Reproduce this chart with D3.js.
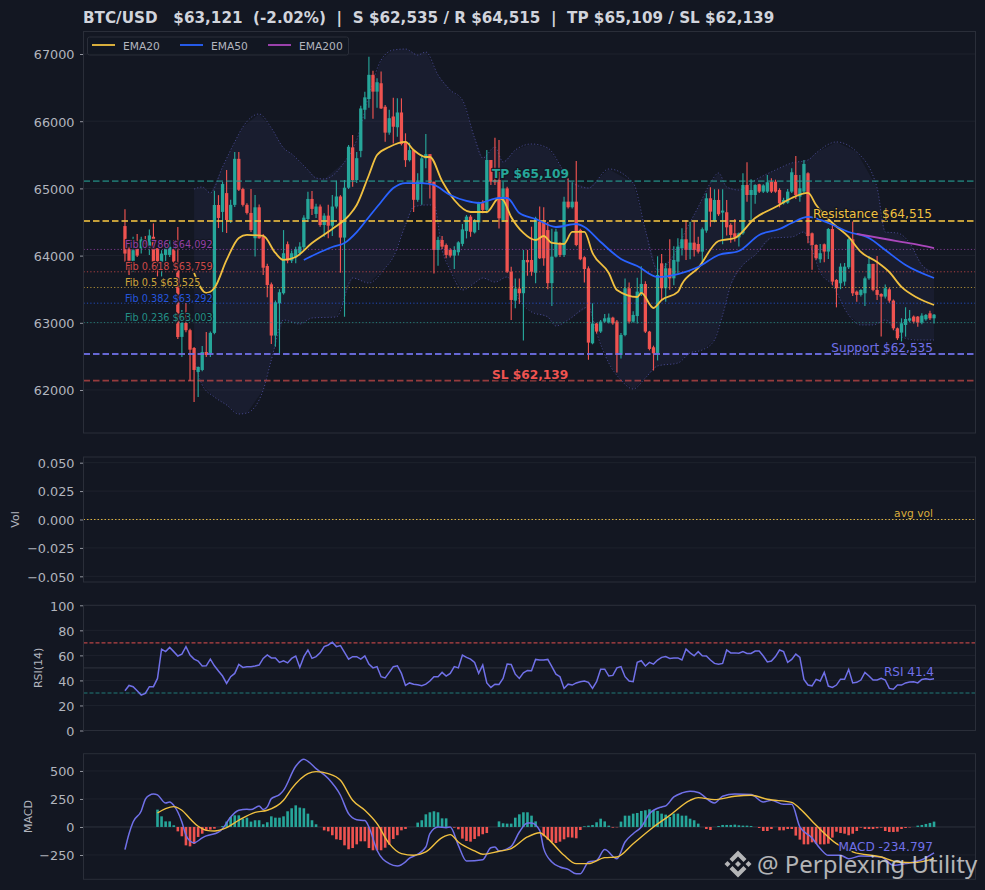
<!DOCTYPE html>
<html>
<head>
<meta charset="utf-8">
<script src="https://cdn.jsdelivr.net/npm/d3@7"></script>
<style>
  html, body { margin: 0; padding: 0; background: #131722; }
  svg { display: block; }
  text { font-family: "DejaVu Sans", sans-serif; white-space: pre; }
</style>
</head>
<body>
<svg id="canvas" width="985" height="890"></svg>
<script>
// candles, ten per row
let opens = [
  64440,64110,63920,64100,64110,64240,64110,64280,64110,63910,
  64010,64010,64090,63786,62790,62997,62890,62625,62268,62298,
  62566,62550,62850,64753,64650,64930,64530,64755,65440,64990,
  64755,64635,64258,64719,64280,63845,63573,62810,63290,63440,
  64170,63925,63975,64035,64125,64545,64843,64620,64730,64455,
  64595,64445,64730,64880,64268,65010,65610,65125,65558,66170,
  66330,66690,66440,66565,66215,65830,66070,65910,66130,65695,
  65420,65570,64830,65075,65447,65510,65100,64083,64232,64157,
  64083,64000,64050,64175,64365,64580,64345,64495,64780,64680,
  65423,65125,65125,64530,65000,63760,63330,63510,63440,63935,
  63935,63745,64505,64500,64380,63590,63985,64183,64010,64803,
  64720,64803,64382,63975,63810,62695,62990,62870,63018,63005,
  63077,63018,62522,62819,63514,63018,63100,63440,63578,62869,
  62636,62546,63885,63514,63811,63662,63910,64109,64243,64084,
  64193,64173,64059,64372,64853,64515,64828,64640,64645,64456,
  64332,64272,64332,65051,64902,64902,65061,64952,64952,65100,
  65100,64977,64778,64788,64952,65200,64878,64952,65225,64332,
  64158,63945,64168,64060,64396,63638,63588,63613,63826,64243,
  63464,63415,63439,63662,63876,63489,63429,63390,63498,63330,
  62918,62854,62968,63032,63092,63092,63003,63052,63141,63067]
let closes = [
  64030,63910,64080,64000,64240,64170,64300,63910,63910,64030,
  64110,64130,63910,62789,62997,62890,62600,62298,62343,62566,
  62520,62850,64753,64560,65065,64530,64755,65440,64980,64755,
  64635,64380,64719,64258,63820,63563,62810,63305,63455,64035,
  63925,64035,64095,64135,64565,64843,64695,64730,64455,64595,
  64445,64730,64880,64268,65010,65620,65125,65450,66190,66355,
  66690,66440,66580,66190,65830,66045,65918,66130,65660,65420,
  65570,64830,65100,65447,65510,65075,64083,64232,64133,64010,
  64000,64083,64197,64390,64580,64355,64520,64780,64680,65423,
  65100,65090,64555,65000,63760,63340,63510,63440,63935,63900,
  63760,64555,63960,63960,63590,63985,64357,64010,64803,64720,
  64803,64158,63945,63800,62705,62990,62870,63018,63067,63077,
  62992,62522,62819,63514,63018,63117,63464,63578,62869,62611,
  62546,63712,63514,63811,63662,63935,64134,64243,64084,64193,
  64084,64059,64392,64853,64654,64828,64615,64670,64421,64307,
  64272,64332,65051,64902,64977,65051,64952,65045,65091,64952,
  64952,64778,64828,64952,65240,64902,65002,65364,64292,64158,
  63960,64035,64060,64396,63613,63514,63836,63836,64243,63439,
  63415,63489,63662,63876,63490,63415,63390,63514,63330,62918,
  62770,62993,63057,63067,63018,63003,63107,63117,63067,63121]
let highs = [
  64690,64130,64280,64320,64280,64290,64390,64480,64110,64080,
  64160,64230,64230,64426,63190,63295,62910,62640,62350,62655,
  62863,62870,64966,64900,65095,65275,64830,65540,65540,65010,
  64780,64990,64902,64760,64320,63880,63600,63330,63500,64380,
  64210,64075,64130,64200,64600,64950,64960,64770,64760,64630,
  64755,64900,65115,64900,65125,65645,65795,65540,66230,66440,
  66960,66750,66640,66740,66240,66170,66350,66340,66340,65820,
  65680,65570,65225,65500,65810,65510,65100,64280,64290,64180,
  64110,64140,64215,64470,64605,64605,64545,64800,64825,65570,
  65423,65755,65720,65100,65025,63835,63660,63660,64085,64085,
  64430,64580,64730,64720,64500,64400,64400,64200,64877,65150,
  65090,65408,64400,63990,63840,63290,63000,63040,63130,63140,
  63090,63040,62850,63660,63600,63170,63670,63840,63620,62880,
  62660,63990,64025,63890,64243,64140,64258,64406,64530,64505,
  64505,64280,64420,64927,65016,64987,64987,64987,64828,64480,
  64545,64342,65225,65388,65135,65061,65071,65060,65200,65150,
  65130,65002,64860,64990,65300,65483,65200,65423,65240,64345,
  64170,64173,64180,64410,64470,63650,63885,63890,64260,64506,
  63480,63500,63690,63995,63880,63995,63440,63570,63520,63345,
  62930,63067,63231,63190,63110,63100,63142,63130,63180,63130]
let lows = [
  63910,63710,63760,63980,64030,64100,64010,63760,63690,63690,
  63910,63980,63880,62760,62490,62860,62134,61822,61896,62280,
  62490,62490,62830,64410,64350,64335,64485,64725,64960,64730,
  64610,64350,63985,64250,63710,63380,62685,62645,62540,63420,
  63885,63890,63885,64000,64080,64500,64605,64560,64430,64280,
  64260,64290,64700,63745,63090,64990,65025,65080,65465,66030,
  66200,66035,66200,66180,65695,65800,65670,65770,65640,65320,
  65400,64650,64800,64755,65300,64850,63735,63850,64100,63960,
  63970,63800,64000,64140,64255,64280,64330,64380,64630,64630,
  65050,65050,64405,64500,63740,63040,63215,63280,62735,63700,
  63700,63590,63950,63850,63500,63250,63970,63980,63980,64700,
  64700,64140,63930,63600,62450,62680,62840,62850,63000,62990,
  62970,62260,62470,62800,62990,63000,62990,63400,62850,62590,
  62290,62440,63340,63315,63490,63560,63737,64000,63935,63945,
  63985,64030,63860,64340,64430,64495,64590,64168,64300,64193,
  64208,64134,64310,64803,64520,64770,64930,64930,64930,64930,
  64935,64719,64760,64770,64930,64843,64800,64930,64183,63790,
  63940,63895,63900,63950,63560,63230,63500,63550,63800,63400,
  63315,63390,63250,63640,63470,63340,62795,63360,63300,62890,
  62745,62720,62794,63010,62990,62940,62980,63030,63040,62990]

let ema20Idx = [17,20,22,25,28,30,34,37,39,42,46,51,55,57,60,62,65,69,71,74,75,78,81,85,89,92,93,95,98,101,103,105,108,110,113,115,119,121,126,127,130,132,136,137,141,146,150,155,160,164,168,170,174,178,181,185,188,191,195,199]
let ema20 = [63741,63444,63518,63935,64262,64307,64292,64039,63935,63980,64188,64396,64590,64753,65200,65497,65616,65691,65571,65467,65467,65110,64828,64649,64649,64857,64828,64575,64337,64232,64292,64188,64173,64352,64352,64039,63741,63488,63384,63444,63220,63340,63459,63578,63816,64217,64262,64560,64723,64857,64932,64753,64485,64277,64054,63905,63756,63533,63369,63265]
let ema50Idx = [44,47,51,54,57,60,63,66,69,73,76,80,84,87,92,94,97,101,106,111,113,117,122,126,131,136,141,146,151,156,161,164,168,173,178,183,187,192,199]
let ema50 = [63935,64024,64128,64188,64351,64575,64798,65006,65080,65080,65051,64902,64813,64783,64857,64857,64634,64545,64426,64470,64426,64203,63950,63846,63682,63726,63831,64009,64069,64307,64396,64485,64575,64485,64351,64262,64083,63860,63667]
let ema200Idx = [180,187,194,199]
let ema200 = [64322,64247,64173,64113]

// bollinger envelope
let bbUpperIdx = [17,19,21,24,27,29,33,36,39,41,45,47,49,54,57,60,63,66,69,72,74,77,80,83,86,88,91,93,96,100,104,107,109,114,119,125,128,131,135,138,141,144,146,148,151,155,160,164,168,170,175,180,185,187,190,193,196,199]
let bbUpper = [64991,65021,64932,65319,65691,65914,66107,65899,65601,65512,65274,65155,65140,65393,65720,66390,66911,67060,67074,66985,67030,66688,66464,66315,65750,65452,65616,65393,65571,65661,65601,65348,65125,65006,65289,65080,64381,63786,64009,64381,64723,65080,65229,65021,64976,65125,65274,65378,65423,65527,65691,65542,65006,64351,64336,64188,63860,63741]
let bbLowerIdx = [17,19,22,25,28,30,34,36,39,43,46,52,56,60,64,66,69,71,74,76,78,80,83,86,88,91,94,97,100,104,106,109,114,116,119,122,125,128,131,136,139,142,145,147,149,152,155,159,164,167,169,171,174,178,181,184,187,191,195,199]
let bbLower = [62447,62075,61896,61777,61643,61658,62000,62447,63042,62982,63072,63087,63667,63593,63816,63979,64456,64723,64753,64753,64084,63786,63488,63593,63667,63607,63682,63340,63161,63087,62953,63042,63235,62848,62402,62149,62015,62179,62358,62402,62551,62596,62744,63116,63563,63860,64009,64262,64277,64351,64084,63756,63563,63116,62968,62968,63042,62789,62744,62744]

// RSI(14), one per candle
let rsi = [
  31.7,36,35,31.7,28.3,29.6,35,35,41.6,65,
  63,66.4,63,59.5,61,67,60.3,57,55.5,51.5,
  51.7,57,51.7,47.5,43.5,37.6,43,45.6,52.8,50.4,
  51,51,51.5,52.3,57.6,60.3,58,58,54.4,55.7,
  54,57.6,59.5,50.4,59,64.3,57.6,59,62,67,
  68.3,70.5,67,67.8,62.4,57,59,59,57,59.5,
  53,50,51,43,42,46.4,51,51.7,45.6,36,
  38,37,36.5,35.7,37,39.5,43,43,46.4,43.5,
  45.6,51,50,60.3,58.4,57,54.4,45.6,52.3,38,
  34.4,37,36.8,41.6,53,52.8,45,41.6,46,48,
  47.7,56.8,56.3,56.3,56.8,51,45,43,33.6,37,
  36.3,38,39,39.5,38.5,33.6,39,49,49,43.5,
  44,50,51,43,39.5,39,54.4,55.7,51.5,54.4,
  53,56.3,58.4,59,57.6,58,58,56.3,65,62,
  59.7,63,59.7,59.5,56.3,53.6,53,53.6,64.3,62,
  62,61.7,63,61.6,61.6,63.5,63.5,59.5,54.7,55.5,
  59,64.3,63,54.4,56.8,61,58.4,40.8,36.3,35.7,
  40.8,39.5,46.4,35.5,34.4,36.3,41,41,48.8,38,
  38.5,40.3,46.4,43.5,40.3,40.3,41.6,40.3,33.6,33,
  36.3,36.3,38,38.7,39,38,40.8,41.3,40.8,41.4]

// MACD panel
let macdIdx = [0,1,2,4,5,6,7,8,10,11,12,14,15,16,17,19,20,23,24,26,28,30,31,33,34,35,36,38,39,42,44,45,47,50,53,55,57,59,60,62,65,67,69,70,71,74,75,77,79,80,82,84,88,90,91,92,95,97,99,100,102,103,105,107,109,111,112,114,116,118,121,123,125,127,129,132,133,135,137,139,141,145,147,150,154,157,159,162,164,166,169,171,173,176,178,181,186,189,192,196,199]
let macd = [-202,-60,45,143,247,283,295,286,214,223,193,45,-74,-125,-140,-98,-80,-45,-15,89,149,158,155,188,155,179,253,289,327,542,604,586,521,432,283,119,65,57,0,-208,-327,-348,-312,-277,-262,-179,-60,0,-6,0,-164,-304,-292,-185,-179,-214,-173,-45,36,36,-30,-193,-312,-357,-378,-417,-417,-312,-298,-202,-283,-134,-60,0,119,179,188,268,304,318,307,214,274,295,289,223,238,202,202,0,-98,-193,-253,-253,-283,-259,-268,-342,-327,-292,-232]
let signalIdx = [8,10,12,14,16,18,20,22,25,28,32,35,39,41,45,47,50,53,56,59,62,65,68,71,74,78,80,82,86,88,92,95,99,102,104,108,111,114,118,121,125,130,134,139,141,145,150,154,158,164,166,170,175,179,186,190,194,199]
let signal = [125,164,182,149,74,6,-30,-36,-6,60,131,149,238,342,476,494,476,417,238,149,30,-149,-238,-253,-223,-95,-68,-134,-214,-244,-217,-193,-89,-51,-104,-253,-327,-327,-274,-268,-149,0,104,238,262,244,274,283,247,220,164,15,-149,-223,-268,-312,-318,-283]
// histogram starts at candle 8
let histStart = 8
let hist = [
  155,95,50,50,15,-39,-83,-164,-173,-152,
  -89,-60,-30,-24,-15,0,9,48,89,104,
  104,74,83,48,60,60,24,42,95,83,
  83,95,140,167,193,173,167,119,60,24,
  0,-30,-39,-74,-110,-116,-164,-199,-188,-155,
  -128,-128,-188,-208,-208,-208,-185,-158,-107,-74,
  -30,-18,0,0,39,60,113,131,140,131,
  77,77,0,-6,-21,-104,-125,-131,-107,-83,
  -65,-54,0,0,50,33,30,30,83,113,
  131,131,101,50,0,-83,-113,-134,-143,-131,
  -110,-92,-95,-101,-27,6,12,18,42,74,
  50,12,-6,-3,48,101,101,119,125,143,
  149,158,149,143,119,110,89,119,119,101,
  101,74,60,30,0,-18,-27,0,9,18,
  18,18,21,15,12,12,9,0,-9,-36,
  -36,-18,0,-30,-30,-18,-18,-77,-113,-155,
  -155,-137,-149,-155,-155,-149,-95,-42,-54,-60,
  -74,-60,-36,-6,-18,-18,-18,-12,-6,-36,
  -45,-45,-42,-18,-9,-4,0,12,18,27,
  36,48]

// key levels
let fibLabels = ['Fib 0.786 $64,092','Fib 0.618 $63,759','Fib 0.5 $63,525','Fib 0.382 $63,292','Fib 0.236 $63,003']
let fibValues = [64092,63759,63525,63292,63003]
let fibColors = ['#ab47bc','#ef5350','#f0c040','#2962ff','#26a69a']
let tpLevel = 65109, slLevel = 62139, resLevel = 64515, supLevel = 62535

let priceTicks = [62000,63000,64000,65000,66000,67000]
let volTicks = [-0.05,-0.025,0,0.025,0.05]
let rsiTicks = [0,20,40,60,80,100]
let macdTicks = [-250,0,250,500]

let bg = '#131722', gridCol = '#1e222d', spineCol = '#2a2e39', tickCol = '#b2b5be'
let up = '#26a69a', down = '#ef5350', yellow = '#f0c040', blue = '#2962ff', purple = '#ab47bc', violet = '#7070e8'

let canvas = d3.select('#canvas')
canvas.append('rect').attr('width', 985).attr('height', 890).attr('fill', bg)

let left = 83.5, right = 975.5
let x = d3.scaleLinear().domain([-10.2, 209.2]).range([left, right])

// one panel: grid, frame, left axis
let makePanel = (top, bottom, domain, ticks, fmt, label, labelX) => {
  let y = d3.scaleLinear().domain(domain).range([bottom, top])
  let g = canvas.append('g')
  g.selectAll('line.grid').data(ticks).enter().append('line')
    .attr('x1', left).attr('x2', right)
    .attr('y1', d => y(d)).attr('y2', d => y(d))
    .attr('stroke', gridCol).attr('stroke-width', 1)
  let axis = d3.axisLeft(y).tickValues(ticks).tickFormat(fmt).tickSize(3.5).tickPadding(5.5)
  let ag = g.append('g').attr('transform', 'translate(' + left + ',0)').call(axis)
  ag.select('.domain').remove()
  ag.selectAll('line').attr('stroke', tickCol).attr('stroke-width', 0.8)
  ag.selectAll('text').attr('fill', tickCol).attr('dy', '0.38em').style('font-size', '12.8px')
  if (label) {
    g.append('text').text(label)
      .attr('transform', 'translate(' + labelX + ',' + ((top + bottom) / 2) + ') rotate(-90)')
      .attr('text-anchor', 'middle').attr('fill', tickCol).style('font-size', '11px')
  }
  let overlay = canvas.append('g')
  let frame = () => overlay.append('rect').attr('x', left).attr('y', top)
    .attr('width', right - left).attr('height', bottom - top)
    .attr('fill', 'none').attr('stroke', spineCol).attr('stroke-width', 1)
  return { y, overlay, frame }
}

let minusFmt = d => String(d).replace('-', '\u2212')

// ---- price panel
let pricePanel = makePanel(31.5, 433, [61360, 67335], priceTicks, d => d, null, 0)
let yp = pricePanel.y
let pg = pricePanel.overlay

let upperLine = d3.line().x((d, i) => x(bbUpperIdx[i])).y(d => yp(d)).curve(d3.curveMonotoneX)
let lowerLine = d3.line().x((d, i) => x(bbLowerIdx[i])).y(d => yp(d)).curve(d3.curveMonotoneX)
let bandPts = bbUpper.map((d, i) => [x(bbUpperIdx[i]), yp(d)])
  .concat(bbLower.map((d, i) => [x(bbLowerIdx[i]), yp(d)]).reverse())
pg.append('path').attr('d', d3.line()(bandPts) + 'Z').attr('fill', violet).attr('fill-opacity', 0.07)
;[[bbUpper, upperLine], [bbLower, lowerLine]].forEach(([vals, ln]) => {
  pg.append('path').attr('d', ln(vals)).attr('fill', 'none')
    .attr('stroke', violet).attr('stroke-opacity', 0.5).attr('stroke-width', 1)
    .attr('stroke-dasharray', '1.2 2')
})

let candleIdx = d3.range(opens.length)
pg.selectAll('line.wick').data(candleIdx).enter().append('line')
  .attr('x1', i => x(i)).attr('x2', i => x(i))
  .attr('y1', i => yp(highs[i])).attr('y2', i => yp(lows[i]))
  .attr('stroke', i => closes[i] >= opens[i] ? up : down).attr('stroke-width', 1.15)
pg.selectAll('rect.body').data(candleIdx).enter().append('rect')
  .attr('x', i => x(i) - 1.65).attr('width', 3.3)
  .attr('y', i => yp(Math.max(opens[i], closes[i])))
  .attr('height', i => Math.max(1, Math.abs(yp(opens[i]) - yp(closes[i]))))
  .attr('fill', i => closes[i] >= opens[i] ? up : down)

// levels
let hLine = (v, col, w, dash, op) => pg.append('line')
  .attr('x1', left).attr('x2', right).attr('y1', yp(v)).attr('y2', yp(v))
  .attr('stroke', col).attr('stroke-width', w).attr('stroke-dasharray', dash).attr('stroke-opacity', op)
fibValues.forEach((v, i) => hLine(v, fibColors[i], 1, '1.2 2.2', 0.7))
hLine(tpLevel, up, 1.8, '6.5 3', 0.6)
hLine(slLevel, down, 1.8, '6.5 3', 0.6)
hLine(resLevel, yellow, 2, '6.5 3', 0.8)
hLine(supLevel, violet, 2, '6.5 3', 0.9)

let drawLine = (g, scale, idx, vals, col, w, curve) => g.append('path')
  .attr('d', d3.line().x((d, i) => x(idx[i])).y(d => scale(d)).curve(curve || d3.curveMonotoneX)(vals))
  .attr('fill', 'none').attr('stroke', col).attr('stroke-width', w)

drawLine(pg, yp, ema20Idx, ema20, yellow, 1.8)
drawLine(pg, yp, ema50Idx, ema50, blue, 1.8)
drawLine(pg, yp, ema200Idx, ema200, purple, 1.8)

let halo = (sel) => sel.attr('stroke', bg).attr('stroke-width', 2.5).attr('stroke-opacity', 0.9)
  .attr('paint-order', 'stroke').attr('stroke-linejoin', 'round')

let fibTextY = [247.5, 270, 286, 301.5, 321]
fibLabels.forEach((t, i) => {
  pg.append('text').text(t).attr('x', 125).attr('y', fibTextY[i])
    .attr('fill', fibColors[i]).attr('fill-opacity', 0.85).style('font-size', '9.7px').call(halo)
})
pg.append('text').text('TP $65,109').attr('x', 492).attr('y', 178).attr('fill', up)
  .style('font-size', '12.2px').style('font-weight', 'bold').call(halo)
pg.append('text').text('SL $62,139').attr('x', 492).attr('y', 378.5).attr('fill', down)
  .style('font-size', '12.2px').style('font-weight', 'bold').call(halo)
pg.append('text').text('Resistance $64,515').attr('x', 932).attr('y', 218).attr('text-anchor', 'end')
  .attr('fill', yellow).style('font-size', '12.1px').call(halo)
pg.append('text').text('Support $62,535').attr('x', 933).attr('y', 351.5).attr('text-anchor', 'end')
  .attr('fill', violet).style('font-size', '12.1px').call(halo)

// legend
let legendNames = ['EMA20', 'EMA50', 'EMA200']
let legendCols = [yellow, blue, purple]
let legendX = [92, 180, 268]
pg.append('rect').attr('x', 87.5).attr('y', 37).attr('width', 261).attr('height', 18).attr('rx', 2)
  .attr('fill', bg).attr('fill-opacity', 0.85).attr('stroke', spineCol)
legendNames.forEach((n, i) => {
  pg.append('line').attr('x1', legendX[i]).attr('x2', legendX[i] + 23).attr('y1', 45).attr('y2', 45)
    .attr('stroke', legendCols[i]).attr('stroke-width', 1.8)
  pg.append('text').text(n).attr('x', legendX[i] + 31).attr('y', 50)
    .attr('fill', tickCol).style('font-size', '10.7px')
})
pricePanel.frame()

canvas.append('text').text('BTC/USD   $63,121  (-2.02%)  |  S $62,535 / R $64,515  |  TP $65,109 / SL $62,139')
  .attr('x', 83).attr('y', 23).attr('fill', '#d1d4dc')
  .style('font-size', '15.2px').style('font-weight', 'bold')

// ---- volume panel (empty series)
let volPanel = makePanel(457, 582, [-0.055, 0.055], volTicks, d => minusFmt(d3.format('.3f')(d)), 'Vol', 19)
let yv = volPanel.y
volPanel.overlay.append('line').attr('x1', left).attr('x2', right).attr('y1', yv(0)).attr('y2', yv(0))
  .attr('stroke', yellow).attr('stroke-width', 1.2).attr('stroke-dasharray', '1.5 2').attr('stroke-opacity', 0.9)
volPanel.overlay.append('text').text('avg vol').attr('x', 933).attr('y', 517).attr('text-anchor', 'end')
  .attr('fill', yellow).attr('fill-opacity', 0.9).style('font-size', '10.7px')
volPanel.frame()

// ---- RSI panel
let rsiPanel = makePanel(605.3, 730.5, [0, 100], rsiTicks, d => d, 'RSI(14)', 42)
let yr = rsiPanel.y
let rg = rsiPanel.overlay
let rsiLine = (v, col, dash, op) => rg.append('line').attr('x1', left).attr('x2', right)
  .attr('y1', yr(v)).attr('y2', yr(v)).attr('stroke', col).attr('stroke-width', 1.1)
  .attr('stroke-dasharray', dash).attr('stroke-opacity', op)
rsiLine(70, down, '4 2', 0.75)
rsiLine(30, up, '4 2', 0.7)
rsiLine(50, spineCol, null, 1)
drawLine(rg, yr, d3.range(rsi.length), rsi, violet, 1.5, d3.curveLinear)
rg.append('text').text('RSI 41.4').attr('x', 934).attr('y', 676).attr('text-anchor', 'end')
  .attr('fill', violet).style('font-size', '12px').call(halo)
rsiPanel.frame()

// ---- MACD panel
let macdPanel = makePanel(753.7, 879.3, [-467, 654], macdTicks, minusFmt, 'MACD', 32)
let ym = macdPanel.y
let mg = macdPanel.overlay
mg.append('line').attr('x1', left).attr('x2', right).attr('y1', ym(0)).attr('y2', ym(0))
  .attr('stroke', spineCol).attr('stroke-width', 1)
mg.selectAll('rect.bar').data(hist).enter().append('rect')
  .attr('x', (d, i) => x(i + histStart) - 1.3).attr('width', 2.6)
  .attr('y', d => ym(Math.max(d, 0)))
  .attr('height', d => Math.abs(ym(d) - ym(0)))
  .attr('fill', d => d >= 0 ? up : down)
drawLine(mg, ym, macdIdx, macd, violet, 1.5)
drawLine(mg, ym, signalIdx, signal, yellow, 1.4)
mg.append('text').text('MACD -234.797').attr('x', 933).attr('y', 850.5).attr('text-anchor', 'end')
  .attr('fill', violet).style('font-size', '12.1px').call(halo)
macdPanel.frame()

// watermark
let wm = canvas.append('g').attr('opacity', 0.82)
let markCol = '#d8d8d8'
let diamond = (cx, cy, r) => {
  let p = d3.path()
  p.moveTo(cx, cy - r); p.lineTo(cx + r, cy); p.lineTo(cx, cy + r); p.lineTo(cx - r, cy); p.closePath()
  return p.toString()
}
let chevron = (cx, cy, dir) => {
  let p = d3.path()
  p.moveTo(cx, cy + dir * 13.5)
  p.lineTo(cx + 8.5, cy + dir * 5)
  p.lineTo(cx + 5.5, cy + dir * 2)
  p.lineTo(cx, cy + dir * 7.5)
  p.lineTo(cx - 5.5, cy + dir * 2)
  p.lineTo(cx - 8.5, cy + dir * 5)
  p.closePath()
  return p.toString()
}
wm.append('path').attr('d', diamond(738, 864, 3)).attr('fill', markCol)
wm.append('path').attr('d', diamond(727.5, 864, 3)).attr('fill', markCol)
wm.append('path').attr('d', diamond(748.5, 864, 3)).attr('fill', markCol)
wm.append('path').attr('d', chevron(738, 864, -1)).attr('fill', markCol)
wm.append('path').attr('d', chevron(738, 864, 1)).attr('fill', markCol)
wm.append('text').text('@ Perplexing Utility').attr('x', 757).attr('y', 873)
  .attr('fill', markCol).style('font-family', '"Noto Sans", sans-serif').style('font-size', '24px')
</script>
</body>
</html>
